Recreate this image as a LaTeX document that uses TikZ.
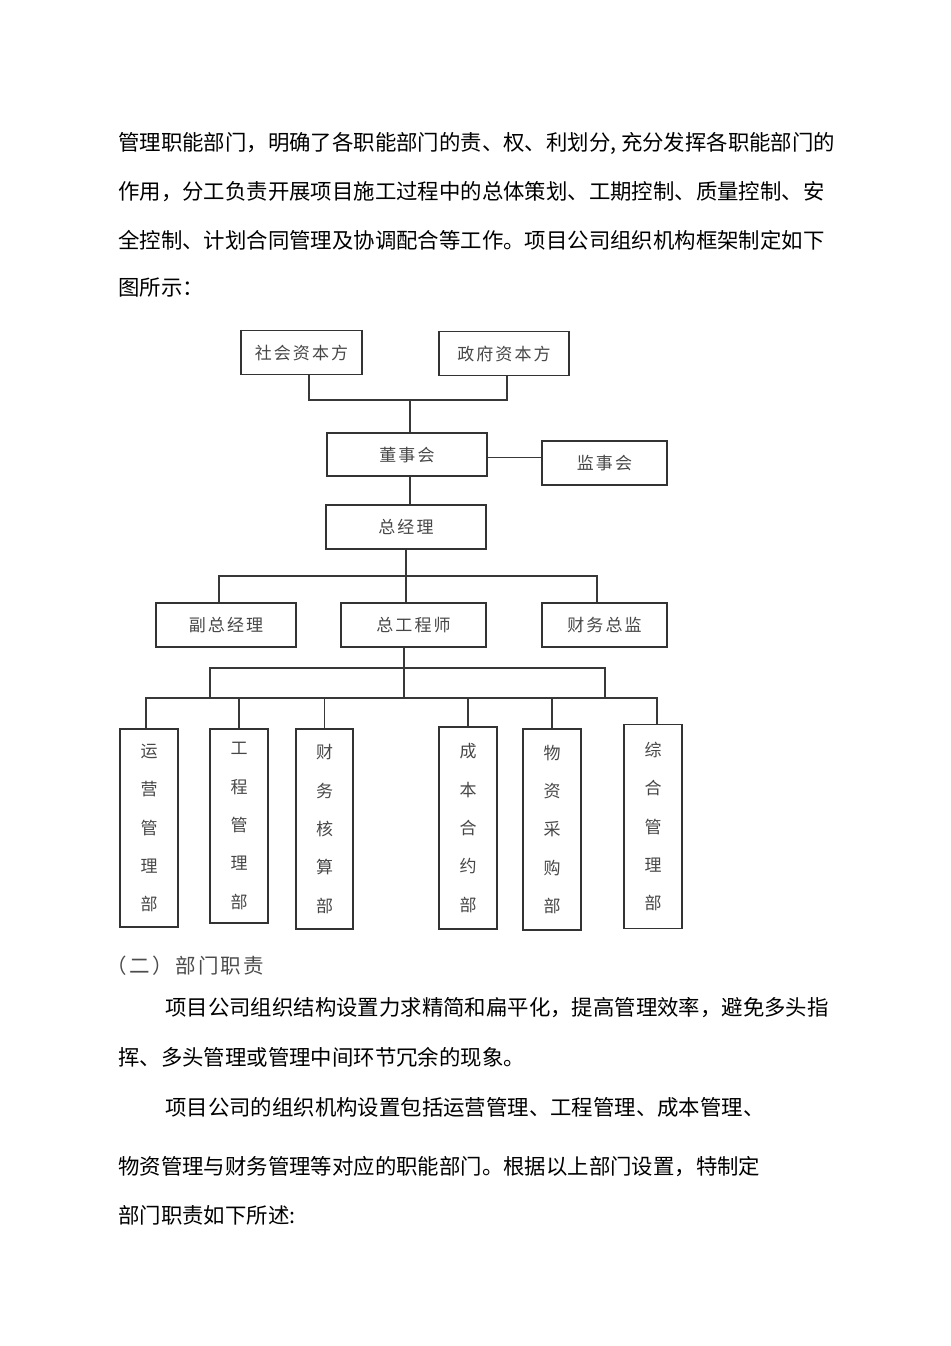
\documentclass[tikz,border=0pt]{standalone}
\usepackage{fontspec}
\setmainfont{Noto Sans CJK SC}
\newfontfamily\boxfont[LetterSpace=12]{Noto Sans CJK SC}

\begin{document}
\begin{tikzpicture}[
  x=1pt, y=-1pt,
  frame/.style={rectangle, draw=black!80, line width=1.6pt, inner sep=0pt, text=black!72},
  box/.style={frame, minimum height=44pt, text height=1.36em, text depth=0em, font=\boxfont\fontsize{17}{17}\selectfont},
  vbox/.style={frame, minimum width=58pt, align=center, font=\boxfont\fontsize{17}{38.3}\selectfont},
  link/.style={draw=black!78, line width=1.3pt},
  para/.style={anchor=west, inner sep=0pt, font=\fontsize{21.4}{21.4}\selectfont}
]
\useasboundingbox (0,0) rectangle (950,1346);

% text above the chart
\node[para] (l1) at (118,143) {管理职能部门，明确了各职能部门的责、权、利划分, 充分发挥各职能部门的};
\node[para] (l2) at (118,192) {作用，分工负责开展项目施工过程中的总体策划、工期控制、质量控制、安};
\node[para] (l3) at (118,240) {全控制、计划合同管理及协调配合等工作。项目公司组织机构框架制定如下};
\node[para] (l4) at (118,288) {图所示：};

% chart
\node[box, minimum width=121pt] (shehui) at (301.5,352.5) {社会资本方};
\node[box, minimum width=130pt] (zhengfu) at (504,353.5) {政府资本方};
\node[box, minimum width=160pt, minimum height=43pt] (dongshi) at (407,454.5) {董事会};
\node[box, minimum width=125pt] (jianshi) at (604.5,463) {监事会};
\node[box, minimum width=160pt, line width=2pt] (zongjingli) at (406,527) {总经理};
\node[box, minimum width=140pt] (fuzong) at (226,625) {副总经理};
\node[box, minimum width=145pt] (zonggong) at (413.5,625) {总工程师};
\node[box, minimum width=125pt] (caiwuzj) at (604.5,625) {财务总监};

\node[vbox, minimum height=198pt] (yunying) at (149,828) {运\\营\\管\\理\\部};
\node[vbox, minimum height=194pt] (gongcheng) at (239,826) {工\\程\\管\\理\\部};
\node[vbox, minimum height=200pt, minimum width=57pt] (caiwuhs) at (324.5,829) {财\\务\\核\\算\\部};
\node[vbox, minimum height=202pt] (chengben) at (468,828) {成\\本\\合\\约\\部};
\node[vbox, minimum height=201pt] (wuzi) at (552,829.5) {物\\资\\采\\购\\部};
\node[vbox, minimum height=204pt] (zonghe) at (653,826.5) {综\\合\\管\\理\\部};

\coordinate (capj) at (410,400);
\coordinate (mgrj) at (406,576);
\coordinate (loopl) at (210,668);
\coordinate (loopr) at (605,668);
\coordinate (deptbus) at (404,698);

\draw[link] ([xshift=7.5pt]shehui.south) |- (capj) -| ([xshift=3pt]zhengfu.south);
\draw[link] (capj) -- (capj |- dongshi.north);
\draw[link] ([yshift=-3pt]dongshi.east) -- ([yshift=-3pt]dongshi.east -| jianshi.west);
\draw[link] ([xshift=3pt]dongshi.south) -- ([xshift=3pt]dongshi.south |- zongjingli.north);
\draw[link] (zongjingli.south) -- (mgrj);
\draw[link] ([xshift=-7pt]fuzong.north) |- (mgrj) -| ([xshift=-7.5pt]caiwuzj.north);
\draw[link] (mgrj) -- (mgrj |- zonggong.north);
\draw[link] (deptbus |- zonggong.south) -- (deptbus);
\draw[link] (loopl |- deptbus) -- (loopl) -- (loopr) -- (loopr |- deptbus);
\draw[link] ([xshift=-3pt]yunying.north) |- (deptbus) -| ([xshift=4pt]zonghe.north);
\foreach \d in {gongcheng, caiwuhs, chengben, wuzi}
  \draw[link] (\d.north) -- (\d.north |- deptbus);

% text below the chart
\node[para, text=black!70, font=\boxfont\fontsize{20.5}{20.5}\selectfont] (sec) at (106,966) {（二）部门职责};
\node[para] (p1) at (165,1008) {项目公司组织结构设置力求精简和扁平化，提高管理效率，避免多头指};
\node[para] (p2) at (118,1057) {挥、多头管理或管理中间环节冗余的现象。};
\node[para] (p3) at (165,1107) {项目公司的组织机构设置包括运营管理、工程管理、成本管理、};
\node[para] (p4) at (118,1167) {物资管理与财务管理等对应的职能部门。根据以上部门设置，特制定};
\node[para] (p5) at (118,1215) {部门职责如下所述:};
\end{tikzpicture}
\end{document}
